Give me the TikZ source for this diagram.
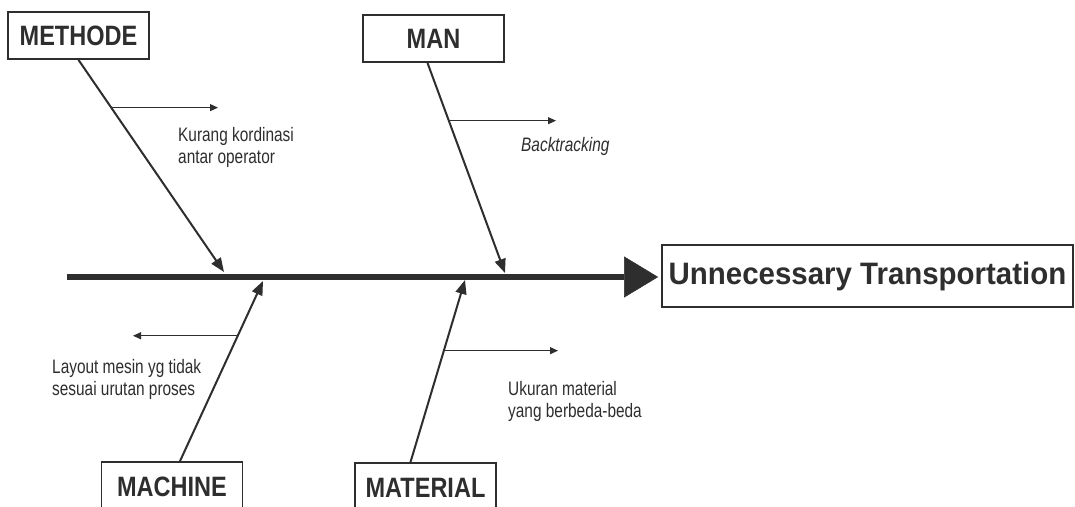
\documentclass[tikz,border=0pt]{standalone}
\usepackage{fontspec}
\usetikzlibrary{arrows.meta,calc}
\newfontfamily\boxfont[FakeStretch=0.84]{Liberation Sans}
\newfontfamily\efffont[FakeStretch=0.95]{Liberation Sans}
\newfontfamily\labfont[FakeStretch=0.79]{Liberation Sans}
\definecolor{ink}{HTML}{2E2E2E}
\begin{document}
\begin{tikzpicture}[x=1pt,y=-1pt,
  cause/.style={draw=ink, line width=1.8pt, fill=white, minimum width=141pt, minimum height=47pt, inner sep=0pt, text=ink, font=\boxfont\bfseries\fontsize{28}{30}\selectfont},
  effect/.style={draw=ink, line width=1.8pt, minimum width=411pt, minimum height=62pt, inner sep=0pt, text=ink, font=\efffont\bfseries\fontsize{31}{34}\selectfont},
  bone/.style={draw=ink, line width=2pt, -{Triangle[length=14pt,width=11pt]}},
  sub/.style={draw=ink, line width=1pt, -{Triangle[length=8pt,width=7pt]}},
  spine/.style={draw=ink, line width=6pt, -{Triangle[length=34pt,width=41pt,line width=0.5pt]}},
  lab/.style={text=ink, inner sep=0pt, align=left, anchor=base west, font=\labfont\fontsize{19.5}{21.5}\selectfont}
]
\useasboundingbox (0,0) rectangle (1075,506);
\clip (0,0) rectangle (1075,506);
\fill[white] (0,0) rectangle (1075,506);

% cause boxes and effect box
\node[cause] (methode) at (78.5,35.5) {METHODE};
\node[cause] (man) at (433.5,38.5) {MAN};
\node[cause, minimum height=50pt] (machine) at (172,487) {MACHINE};
\node[cause, minimum height=50pt] (material) at (425.5,488) {MATERIAL};
\node[effect] (effect) at (867.5,276) {Unnecessary Transportation};

% spine
\coordinate (s0) at (67,277);
\draw[spine, shorten >=3pt] (s0) -- (s0 -| effect.west);

% tips of the bones on the spine
\coordinate (tMet) at (224,272);
\coordinate (tMan) at (505,273);
\coordinate (tMac) at (263,281);
\coordinate (tMat) at (465,280);

% bone starts
\coordinate (bMet) at (methode.south);
\coordinate (bMan) at ([xshift=-6pt]man.south);
\coordinate (bMac) at ([xshift=8pt]machine.north);
\coordinate (bMat) at ([xshift=-15pt]material.north);

\draw[bone] (bMet) -- (tMet);
\draw[bone] (bMan) -- (tMan);
\draw[bone] (bMac) -- (tMac);
\draw[bone] (bMat) -- (tMat);

% small arrows
\coordinate (m1) at ($(bMet)!0.225!(tMet)$);
\coordinate (m2) at ($(bMan)!0.275!(tMan)$);
\coordinate (m3) at ($(bMac)!0.696!(tMac)$);
\coordinate (m4) at ($(bMat)!0.612!(tMat)$);
\coordinate (e1) at (218,0);
\coordinate (e2) at (556,0);
\coordinate (e3) at (133,0);
\coordinate (e4) at (558,0);
\draw[sub] (m1) -- (m1 -| e1);
\draw[sub] (m2) -- (m2 -| e2);
\draw[sub] (m3) -- (m3 -| e3);
\draw[sub] (m4) -- (m4 -| e4);

% labels (base anchor = baseline of last line)
\node[lab] (l1) at (178,163) {Kurang kordinasi\\antar operator};
\node[lab] (l2) at (521,151) {\itshape Backtracking};
\node[lab] (l3) at (52,395) {Layout mesin yg tidak\\sesuai urutan proses};
\node[lab] (l4) at (508,417) {Ukuran material\\yang berbeda-beda};
\end{tikzpicture}
\end{document}
